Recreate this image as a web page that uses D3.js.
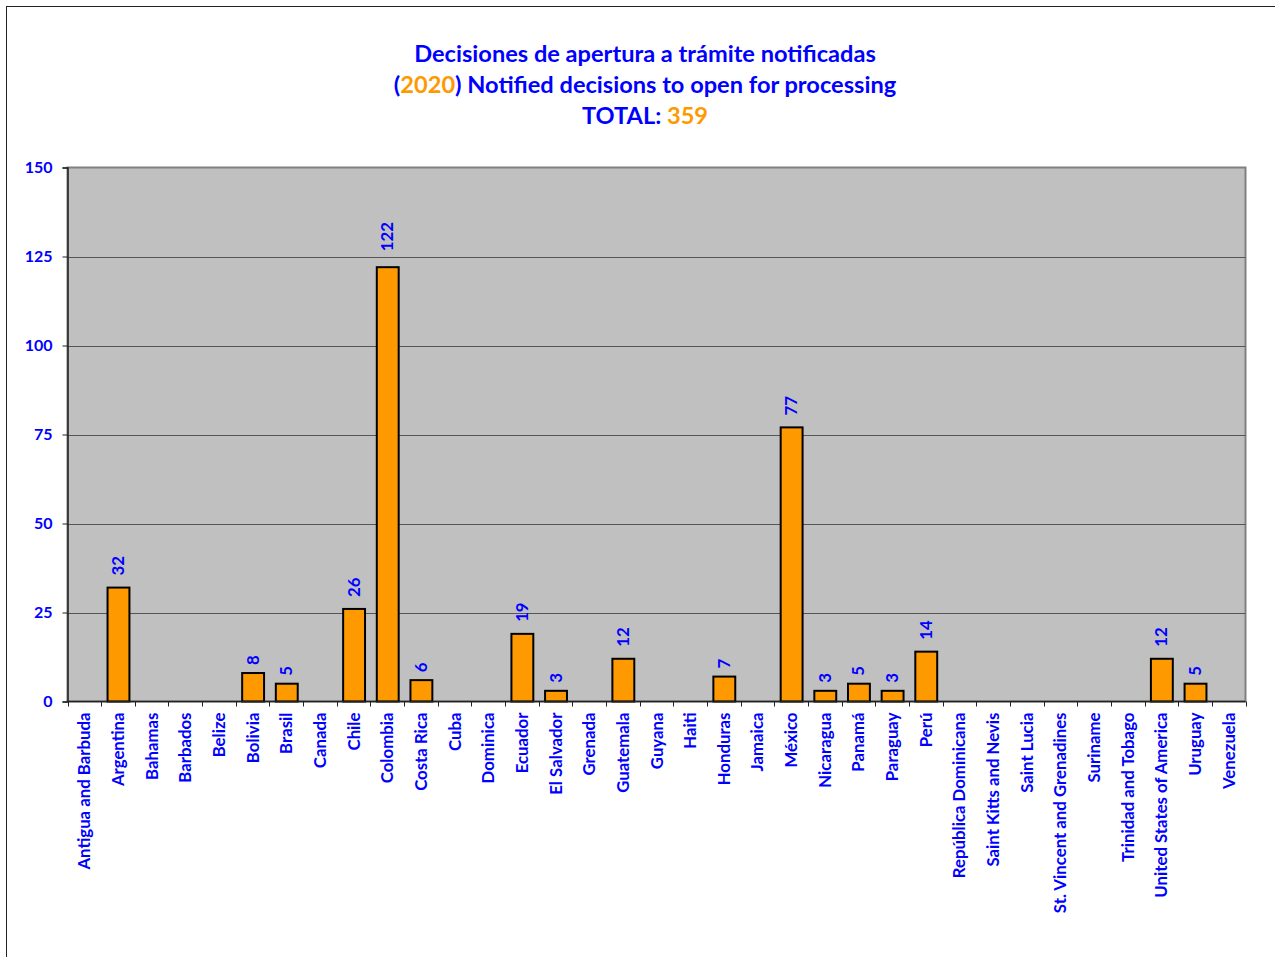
<!DOCTYPE html>
<html>
<head>
<meta charset="utf-8">
<script src="https://cdn.jsdelivr.net/npm/d3@7"></script>
<style>
  html, body { margin: 0; padding: 0; background: #fff; }
  svg { display: block; }
  text { font-family: Lato, "Open Sans", sans-serif; font-weight: bold; }
</style>
</head>
<body>
<svg id="chart" width="1275" height="957"></svg>
<script>
const categories = ["Antigua and Barbuda","Argentina","Bahamas","Barbados","Belize","Bolivia","Brasil","Canada","Chile","Colombia","Costa Rica","Cuba","Dominica","Ecuador","El Salvador","Grenada","Guatemala","Guyana","Haiti","Honduras","Jamaica","México","Nicaragua","Panamá","Paraguay","Perú","República Dominicana","Saint Kitts and Nevis","Saint Lucia","St. Vincent and Grenadines","Suriname","Trinidad and Tobago","United States of America","Uruguay","Venezuela"];
const values = [0,32,0,0,0,8,5,0,26,122,6,0,0,19,3,0,12,0,0,7,0,77,3,5,3,14,0,0,0,0,0,0,12,5,0];
const yTicks = [0,25,50,75,100,125,150];
const titleLine1 = "Decisiones de apertura a trámite notificadas";
const titleYear = "2020";
const titleLine2 = " Notified decisions to open for processing";
const totalLabel = "TOTAL: ";
const totalValue = "359";

const BLUE = "#0000FF", ORANGE = "#FF9900";
const svg = d3.select("#chart");

// outer frame
svg.append("rect").attr("x", 6.5).attr("y", 6.5).attr("width", 1300).attr("height", 1000)
  .attr("fill", "#fff").attr("stroke", "#222").attr("stroke-width", 1);

const pL = 67.5, pR = 1245.5, pT = 167.5, pB = 701.5;

const x = d3.scaleBand().domain(categories).range([pL, pR]).paddingInner(0.32).paddingOuter(0.16);
const xb = d3.scaleBand().domain(categories).range([pL, pR]);
const y = d3.scaleLinear().domain([0, 150]).range([pB, pT]);

// plot background
svg.append("rect").attr("x", pL).attr("y", pT).attr("width", pR - pL).attr("height", pB - pT)
  .attr("fill", "#C0C0C0").attr("stroke", "#808080").attr("stroke-width", 2);

// gridlines
svg.append("g").selectAll("line").data(yTicks.filter(d => d > 0 && d < 150)).join("line")
  .attr("x1", pL).attr("x2", pR).attr("y1", d => Math.round(y(d)) + 0.5).attr("y2", d => Math.round(y(d)) + 0.5)
  .attr("stroke", "#555").attr("stroke-width", 1.2);

// y axis
const yAxis = d3.axisLeft(y).tickValues(yTicks).tickSize(5).tickPadding(10);
const gy = svg.append("g").attr("transform", `translate(${pL},0)`).call(yAxis);
gy.select(".domain").attr("stroke", "#222").attr("stroke-width", 1.5);
gy.selectAll(".tick line").attr("stroke", "#222");
gy.selectAll(".tick text").attr("fill", BLUE).attr("font-size", 16).attr("font-family", "Lato, sans-serif").attr("font-weight", "bold");

// bars
const barData = values.map((v, i) => ({c: categories[i], v})).filter(d => d.v > 0);
svg.append("g").selectAll("rect").data(barData).join("rect")
  .attr("x", d => x(d.c) + 1).attr("width", x.bandwidth() - 1)
  .attr("y", d => y(d.v)).attr("height", d => y(0) - y(d.v))
  .attr("fill", ORANGE).attr("stroke", "#000").attr("stroke-width", 2);

// x axis: ticks at category boundaries
const gx = svg.append("g");
gx.append("line").attr("x1", pL).attr("x2", pR).attr("y1", pB).attr("y2", pB)
  .attr("stroke", "#222").attr("stroke-width", 1.5);
const bounds = categories.map(c => xb(c)).concat([pR]);
gx.selectAll("line.t").data(bounds).join("line").attr("class", "t")
  .attr("x1", d => Math.round(d) + 0.5).attr("x2", d => Math.round(d) + 0.5)
  .attr("y1", pB).attr("y2", pB + 5).attr("stroke", "#222");

// x labels
svg.append("g").selectAll("text").data(categories).join("text")
  .attr("transform", d => `translate(${xb(d) + xb.bandwidth() / 2 + 6},${pB + 11}) rotate(-90)`)
  .attr("text-anchor", "end").attr("fill", BLUE).attr("font-size", 16.8)
  .text(d => d);

// value labels
svg.append("g").selectAll("text").data(barData).join("text")
  .attr("transform", d => `translate(${x(d.c) + x.bandwidth() / 2 + 6},${y(d.v) - (4 + 4 * String(d.v).length)}) rotate(-90)`)
  .attr("text-anchor", "start").attr("fill", BLUE).attr("font-size", 16.8)
  .text(d => d.v);

// title
const t = svg.append("g").attr("font-size", 23.6).attr("text-anchor", "middle");
t.append("text").attr("x", 645).attr("y", 62).attr("fill", BLUE).text(titleLine1);
const l2 = t.append("text").attr("x", 645).attr("y", 93).attr("fill", BLUE);
l2.append("tspan").text("(");
l2.append("tspan").attr("fill", ORANGE).text(titleYear);
l2.append("tspan").text(")" + titleLine2);
const l3 = t.append("text").attr("x", 645).attr("y", 124).attr("fill", BLUE);
l3.append("tspan").text(totalLabel);
l3.append("tspan").attr("fill", ORANGE).text(totalValue);
</script>
</body>
</html>
